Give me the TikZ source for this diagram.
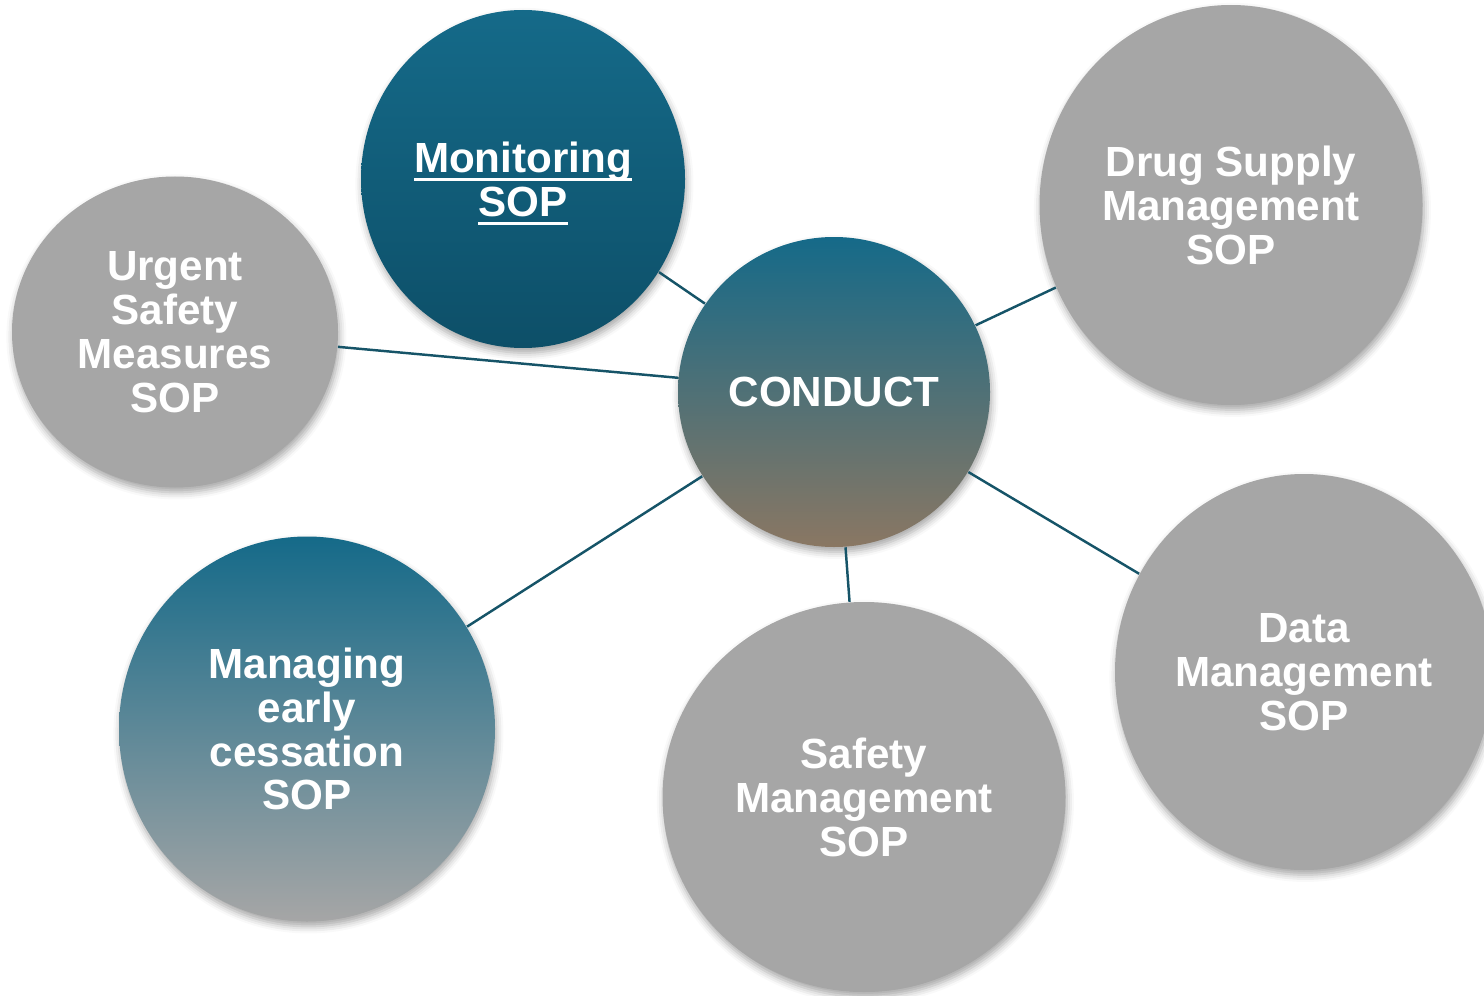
\documentclass[tikz,border=0pt]{standalone}
\usepackage{fontspec}
\setmainfont{Liberation Sans}
\usetikzlibrary{shapes.geometric, shadows.blur}

\definecolor{sopteal}{RGB}{21,106,137}
\definecolor{sopdeep}{RGB}{13,79,104}
\definecolor{sopbrown}{RGB}{138,119,99}
\definecolor{sopgrey}{RGB}{166,166,166}
\definecolor{linkline}{RGB}{22,84,104}

% hyperlink-style underline that runs through the descenders
\newcommand{\linked}[1]{\setbox0\hbox{#1}\rlap{\smash{\rule[-2.6pt]{\wd0}{1pt}}}\box0}

\begin{document}
\begin{tikzpicture}[
    sop/.style={ellipse, inner sep=0pt, align=center, text=white,
      font=\fontsize{12}{12.5}\selectfont\bfseries,
      blur shadow={shadow xshift=0.4pt, shadow yshift=-1.4pt,
        shadow blur radius=2pt, shadow opacity=35}},
    greysop/.style={sop, fill=sopgrey},
    spoke/.style={draw=linkline, line width=0.7pt}]
    \useasboundingbox (0,0) rectangle (14.84,9.95);

    \node[sop, top color=sopteal, bottom color=sopbrown, minimum width=3.12cm, minimum height=3.10cm] (conduct) at (8.34,6.03) {CONDUCT};
    \node[sop, top color=sopteal, bottom color=sopdeep, minimum width=3.24cm, minimum height=3.38cm] (monitoring) at (5.23,8.16) {\linked{Monitoring}\\\linked{SOP}};
    \node[greysop, minimum width=3.26cm, minimum height=3.11cm] (urgent) at (1.75,6.63) {Urgent\\Safety\\Measures\\SOP};
    \node[greysop, minimum width=3.83cm, minimum height=4.00cm] (drug) at (12.31,7.90) {Drug Supply\\Management\\SOP};
    \node[greysop, minimum width=3.78cm, minimum height=3.96cm] (data) at (13.04,3.23) {Data\\Management\\SOP};
    \node[greysop, minimum width=4.03cm, minimum height=3.90cm] (safety) at (8.64,1.98) {Safety\\Management\\SOP};
    \node[sop, top color=sopteal, bottom color=sopgrey, minimum width=3.76cm, minimum height=3.85cm] (early) at (3.07,2.66) {Managing\\early\\cessation\\SOP};

    \draw[spoke] (conduct) -- (monitoring);
    \draw[spoke] (conduct) -- (urgent);
    \draw[spoke] (conduct) -- (drug);
    \draw[spoke] (conduct) -- (data);
    \draw[spoke] (conduct) -- (safety);
    \draw[spoke] (conduct) -- (early);
\end{tikzpicture}
\end{document}
